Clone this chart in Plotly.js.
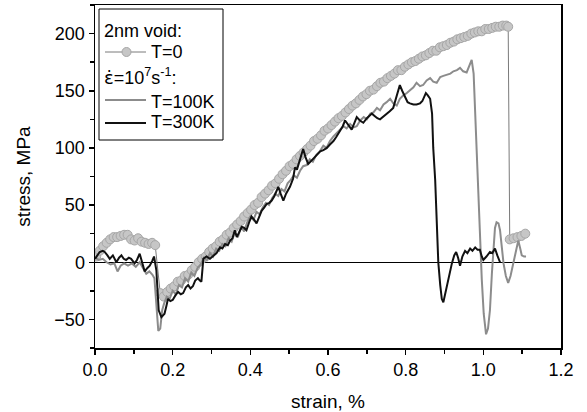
<!DOCTYPE html>
<html>
<head>
<meta charset="utf-8">
<script src="https://cdn.plot.ly/plotly-3.0.1.min.js"></script>
<style>html,body{margin:0;padding:0;background:#fff}#chart{width:587px;height:412px}</style>
</head>
<body>
<div id="chart"></div>
<script>
// T=0 (2nm void), static
const strainT0 = [0.003,0.012,0.021,0.030,0.039,0.048,0.057,0.066,0.075,0.084,0.093,0.102,0.111,0.120,0.129,0.138,0.147,0.155,
0.168,0.177,0.186,0.195,0.204,0.213,0.222,0.231,0.240,0.249,0.258,0.267,0.276,0.285,0.294,0.303,0.312,0.321,0.330,0.339,0.348,0.357,0.366,0.375,0.384,0.393,0.402,0.411,0.420,0.429,0.438,0.447,0.456,0.465,0.474,0.483,0.492,0.501,0.510,0.519,0.528,0.537,0.546,0.555,0.564,0.573,0.582,0.591,0.600,0.609,0.618,0.627,0.636,0.645,0.654,0.663,0.672,0.681,0.690,0.699,0.708,0.717,0.726,0.735,0.744,0.753,0.762,0.771,0.780,0.789,0.798,0.807,0.816,0.825,0.834,0.843,0.852,0.861,0.870,0.879,0.888,0.897,0.906,0.915,0.924,0.933,0.942,0.951,0.960,0.969,0.978,0.987,0.996,1.005,1.014,1.023,1.032,1.041,1.050,1.059,1.064,
1.068,1.078,1.088,1.098,1.108];
const stressT0 = [5,10,14,17,20,22,22,23,24,24,20,19,21,18,17,16,17,15,
-27,-30,-26,-23,-21,-17,-16,-12,-11,-7,-4,0,3,5,9,12,14,18,20,24,26,30,33,36,40,43,46,50,52,57,60,63,67,69,73,77,80,84,86,90,93,96,99,102,106,108,111,115,117,120,123,126,128,131,134,137,139,142,145,147,150,151,154,157,158,161,163,165,168,168,171,173,175,176,178,180,181,183,185,185,188,189,190,192,193,195,196,197,198,200,201,202,202,204,204,205,206,206,207,207,206,
20,21,22,23,25];

// T=100K, strain rate 1e7 s^-1
const strainT100 = [0.000,0.010,0.020,0.030,0.040,0.050,0.058,0.066,0.075,0.085,0.095,0.105,0.115,0.125,0.132,0.140,0.148,0.153,0.158,0.163,0.168,0.173,0.178,0.185,0.192,0.200,0.208,0.216,0.224,0.232,0.240,0.248,0.256,0.264,0.272,0.280,0.288,0.296,0.304,0.312,0.320,0.328,0.336,0.344,0.352,0.360,0.368,0.376,0.384,0.392,0.400,0.408,0.416,0.424,0.432,0.440,0.448,0.456,0.464,0.472,0.480,0.488,0.496,0.504,0.512,0.520,0.528,0.536,0.545,0.553,0.561,0.570,0.579,0.588,0.596,0.605,0.614,0.622,0.631,0.640,0.648,0.657,0.666,0.674,0.683,0.692,0.700,0.709,0.717,0.726,0.734,0.743,0.751,0.760,0.768,0.777,0.785,0.794,0.803,0.811,0.820,0.828,0.837,0.845,0.854,0.863,0.871,0.880,0.889,0.897,0.906,0.915,0.923,0.932,0.940,0.948,0.957,0.965,0.970,0.975,0.980,0.985,0.991,0.996,1.001,1.007,1.012,1.017,1.022,1.026,1.030,1.034,1.039,1.043,1.048,1.052,1.058,1.064,1.070,1.077,1.084,1.090,1.095,1.099,1.105,1.110];
const stressT100 = [4,2,3,0,-2,-1,-8,-3,-1,-3,-1,-4,0,-6,-10,-8,-11,-14,-40,-60,-58,-42,-36,-30,-32,-25,-28,-20,-22,-14,-17,-9,-12,-5,-2,4,2,8,5,12,10,16,14,21,18,26,22,31,27,35,40,37,44,42,48,52,50,56,60,58,64,62,69,72,76,74,80,84,85,90,88,94,97,102,100,106,110,113,116,119,117,121,118,119,124,127,125,130,131,135,133,138,140,143,139,137,143,146,148,150,153,157,154,155,159,161,158,157,162,163,164,165,167,168,170,167,166,172,177,165,120,80,16,-15,-45,-63,-58,-42,-10,16,30,35,34,28,10,-1,-12,-18,-12,-1,10,19,12,6,5,5];

// T=300K, strain rate 1e7 s^-1
const strainT300 = [0.000,0.006,0.012,0.020,0.025,0.032,0.038,0.046,0.055,0.062,0.068,0.074,0.080,0.087,0.093,0.102,0.108,0.115,0.121,0.128,0.135,0.141,0.147,0.152,0.158,0.164,0.171,0.179,0.184,0.188,0.194,0.200,0.207,0.214,0.221,0.227,0.234,0.240,0.246,0.252,0.258,0.265,0.270,0.274,0.279,0.287,0.296,0.305,0.313,0.322,0.328,0.335,0.342,0.348,0.354,0.360,0.365,0.371,0.378,0.384,0.390,0.397,0.403,0.410,0.416,0.423,0.429,0.436,0.442,0.449,0.455,0.462,0.468,0.472,0.478,0.485,0.492,0.502,0.510,0.515,0.520,0.527,0.536,0.542,0.549,0.555,0.561,0.567,0.574,0.580,0.588,0.597,0.605,0.614,0.622,0.631,0.638,0.644,0.652,0.661,0.667,0.674,0.682,0.691,0.700,0.707,0.713,0.720,0.727,0.734,0.742,0.751,0.759,0.768,0.775,0.781,0.785,0.791,0.798,0.805,0.811,0.820,0.828,0.837,0.843,0.848,0.852,0.857,0.863,0.868,0.871,0.876,0.880,0.884,0.889,0.893,0.897,0.903,0.910,0.915,0.919,0.925,0.930,0.935,0.940,0.946,0.953,0.959,0.966,0.972,0.979,0.985,0.991,0.996,1.000,1.008,1.017,1.023,1.030,1.036,1.043];
const stressT300 = [3,6,9,10,9,6,3,6,0,4,6,3,2,4,3,-1,2,7.5,0,-8,-5,-3,1,5,-7,-42,-48,-45,-38,-32,-34,-33,-29,-26,-28,-27,-22,-20,-23,-21,-16,-14,-16,-17,3,5,3,6,8,13,12,16,15,19,21,28,22,26,31,30,28,35,40,37,34,40,45,48,51,52,54,58,63,66,60,54,60,66,73,83,81,88,99,92,86,88,90,92,95,97,98,100,103,106,110,115,119,124,120,116,121,127,124,122,126,128,130,128,126,125,127,130,132,135,144,152,155,150,145,140,139,138,138,139,141,146,148,146,143,130,100,72,40,0,-20,-32,-35,-25,-13,-5,-1,6,9,4,-3,5,10,8,12,10,13,11,11,5,2,5,9,8,12,6,0];

const xTicks = [0.0,0.2,0.4,0.6,0.8,1.0,1.2];
const yTicks = [-50,0,50,100,150,200];
const legendHeadings = ['2nm void:', '<span style="font-family:DejaVu Sans">\u03B5\u0307</span>=10<sup>7</sup>s<sup>-1</sup>:'];
const seriesNames = ['T=0', 'T=100K', 'T=300K'];
const COLORS = {t0line:'#7a7a7a', t0fill:'#c6c6c6', t0edge:'#a6a6a6', t100:'#8c8c8c', t300:'#111111'};

const FONT = 'Liberation Sans, Arial, sans-serif';

// plot area in pixels: left 95, right 561, top 5, bottom 348
const M = {l:95, r:26, t:5, b:64};
const PW = 587 - M.l - M.r, PH = 412 - M.t - M.b;
const px = x => (x - M.l) / PW;
const py = y => (412 - M.b - y) / PH;

const traces = [
  {x: strainT0, y: stressT0, type:'scatter', mode:'lines+markers', name:seriesNames[0], showlegend:false,
   line:{color:COLORS.t0line, width:1},
   marker:{size:9, color:COLORS.t0fill, line:{color:COLORS.t0edge, width:1}}},
  {x: strainT100, y: stressT100, type:'scatter', mode:'lines', name:seriesNames[1], showlegend:false,
   line:{color:COLORS.t100, width:2}},
  {x: strainT300, y: stressT300, type:'scatter', mode:'lines', name:seriesNames[2], showlegend:false,
   line:{color:COLORS.t300, width:2}}
];

// legend (layout decoration)
const shapes = [
  {type:'rect', xref:'paper', yref:'paper', x0:px(99), x1:px(223), y0:py(140), y1:py(9),
   line:{color:'#000', width:1}, fillcolor:'#fff', layer:'above'},
  {type:'line', xref:'paper', yref:'paper', x0:px(105), x1:px(146), y0:py(52), y1:py(52), line:{color:COLORS.t0line, width:1}, layer:'above'},
  {type:'circle', xref:'paper', yref:'paper', x0:px(122), x1:px(131), y0:py(56.5), y1:py(47.5), line:{color:COLORS.t0edge, width:1}, fillcolor:COLORS.t0fill, layer:'above'},
  {type:'line', xref:'paper', yref:'paper', x0:px(105), x1:px(146), y0:py(100), y1:py(100), line:{color:COLORS.t100, width:2}, layer:'above'},
  {type:'line', xref:'paper', yref:'paper', x0:px(105), x1:px(146), y0:py(123), y1:py(123), line:{color:COLORS.t300, width:2}, layer:'above'}
];
const ann = (t, x, y) => ({text:t, xref:'paper', yref:'paper', x:px(x), y:py(y), xanchor:'left', yanchor:'middle',
  showarrow:false, font:{size:18, family:FONT, color:'#000'}, borderpad:0});
const annotations = [
  ann(legendHeadings[0], 103, 31),
  ann(seriesNames[0], 150, 52),
  ann(legendHeadings[1], 103, 76),
  ann(seriesNames[1], 150, 102),
  ann(seriesNames[2], 150, 122)
];

const layout = {
  width:587, height:412,
  margin:M,
  paper_bgcolor:'#fff', plot_bgcolor:'#fff',
  font:{family:FONT, size:18, color:'#000'},
  showlegend:false,
  shapes:shapes, annotations:annotations,
  xaxis:{range:[0,1.2], tickvals:xTicks, ticktext:xTicks.map(v=>v.toFixed(1)),
    ticks:'outside', ticklen:5, tickwidth:1.5, tickcolor:'#000',
    minor:{dtick:0.1, tick0:0, ticks:'outside', ticklen:4, tickwidth:1.5, tickcolor:'#000', showgrid:false},
    showgrid:false, zeroline:false, showline:true, linecolor:'#000', linewidth:1.5, mirror:true,
    tickfont:{size:18}, title:{text:'strain, %', font:{size:19}, standoff:16}},
  yaxis:{range:[-75,225], tickvals:yTicks, ticks:'outside', ticklen:5, tickwidth:1.5, tickcolor:'#000',
    minor:{dtick:25, tick0:0, ticks:'outside', ticklen:4, tickwidth:1.5, tickcolor:'#000', showgrid:false},
    showgrid:false, zeroline:true, zerolinecolor:'#000', zerolinewidth:1,
    showline:true, linecolor:'#000', linewidth:1.5, mirror:true,
    tickfont:{size:18}, title:{text:'stress, MPa', font:{size:19}, standoff:18}}
};

Plotly.newPlot('chart', traces, layout, {displayModeBar:false, staticPlot:true});
</script>
</body>
</html>
